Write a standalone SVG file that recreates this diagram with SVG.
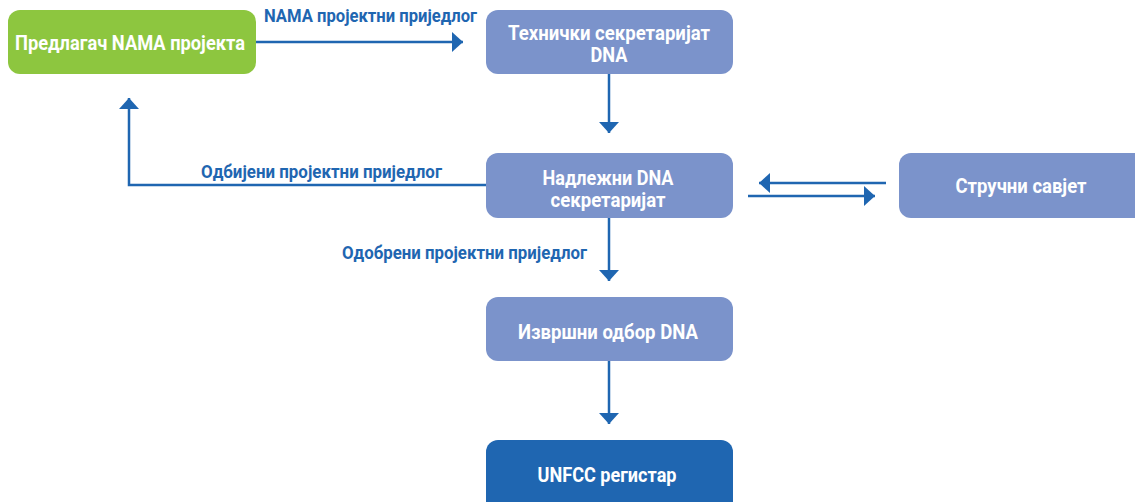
<svg xmlns="http://www.w3.org/2000/svg" width="1135" height="502" viewBox="0 0 1135 502">
<style>
.nd{stroke:none}
.g{fill:#8dc63f}
.b{fill:#7b93cb}
.d{fill:#1f66b1}
.t{font-family:Roboto,"Liberation Sans",sans-serif;font-weight:bold;font-size:19.5px;fill:#ffffff;text-anchor:middle}
.l{font-family:Roboto,"Liberation Sans",sans-serif;font-weight:bold;font-size:18.5px;fill:#1f66b1}
.c{fill:none;stroke:#1f66b1;stroke-width:2.5}
</style>
<defs>
<marker id="ah" markerUnits="userSpaceOnUse" markerWidth="12" markerHeight="20" refX="11" refY="10" orient="auto" viewBox="0 0 12 20">
<path d="M0,0 L11,10 L0,20 z" fill="#1f66b1"/>
</marker>
</defs>
<g id="connectors">
<path class="c" d="M256,42 H463" marker-end="url(#ah)"/>
<path class="c" d="M609,74 V133" marker-end="url(#ah)"/>
<path class="c" d="M486,185 H129 V98" marker-end="url(#ah)"/>
<path class="c" d="M886,183 H759" marker-end="url(#ah)"/>
<path class="c" d="M748,196 H875" marker-end="url(#ah)"/>
<path class="c" d="M609,218 V281" marker-end="url(#ah)"/>
<path class="c" d="M609,361 V424" marker-end="url(#ah)"/>
<text class="l" x="264" y="22" textLength="213" lengthAdjust="spacingAndGlyphs">NAMA пројектни приједлог</text>
<text class="l" x="201" y="178" textLength="241" lengthAdjust="spacingAndGlyphs">Одбијени пројектни приједлог</text>
<text class="l" x="342" y="259" textLength="245" lengthAdjust="spacingAndGlyphs">Одобрени пројектни приједлог</text>
</g>
<g id="n-predlagac">
<rect class="nd g" x="8" y="10" width="248" height="64" rx="12"/>
<text class="t" x="130" y="50" textLength="230" lengthAdjust="spacingAndGlyphs">Предлагач NAMA пројекта</text>
</g>
<g id="n-tehnicki">
<rect class="nd b" x="486" y="10" width="247" height="64" rx="12"/>
<text class="t" x="609" y="40" textLength="202" lengthAdjust="spacingAndGlyphs">Технички секретаријат</text>
<text class="t" x="609" y="62" textLength="37" lengthAdjust="spacingAndGlyphs">DNA</text>
</g>
<g id="n-nadlezni">
<rect class="nd b" x="486" y="153" width="247" height="65" rx="12"/>
<text class="t" x="608" y="185" textLength="131" lengthAdjust="spacingAndGlyphs">Надлежни DNA</text>
<text class="t" x="608" y="207" textLength="115" lengthAdjust="spacingAndGlyphs">секретаријат</text>
</g>
<g id="n-strucni">
<rect class="nd b" x="899" y="153" width="247" height="65" rx="12"/>
<text class="t" x="1021" y="193" textLength="131" lengthAdjust="spacingAndGlyphs">Стручни савјет</text>
</g>
<g id="n-izvrsni">
<rect class="nd b" x="486" y="297" width="247" height="64" rx="12"/>
<text class="t" x="608" y="339" textLength="180" lengthAdjust="spacingAndGlyphs">Извршни одбор DNA</text>
</g>
<g id="n-unfcc">
<rect class="nd d" x="486" y="440" width="247" height="74" rx="12"/>
<text class="t" x="607" y="482" textLength="139" lengthAdjust="spacingAndGlyphs">UNFCC регистар</text>
</g>
</svg>
